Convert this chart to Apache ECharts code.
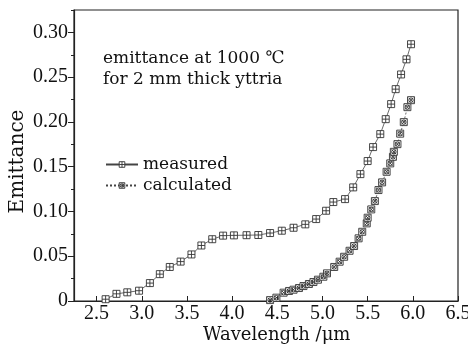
<!DOCTYPE html>
<html>
<head>
<meta charset="utf-8">
<script src="https://cdn.jsdelivr.net/npm/echarts@6/dist/echarts.min.js"></script>
<style>html,body{margin:0;padding:0;background:#fff}#c{width:468px;height:346px}</style>
</head>
<body>
<div id="c"></div>
<script>
var measuredX = [2.60,2.72,2.84,2.97,3.09,3.20,3.31,3.43,3.55,3.66,3.78,3.90,4.02,4.16,4.29,4.42,4.55,4.68,4.81,4.93,5.04,5.12,5.25,5.34,5.42,5.50,5.56,5.64,5.70,5.76,5.81,5.87,5.93,5.98];
var measuredY = [0.002,0.008,0.0097,0.0115,0.020,0.030,0.038,0.044,0.052,0.062,0.069,0.073,0.0733,0.0735,0.0737,0.0759,0.0785,0.0818,0.0856,0.0915,0.1008,0.1105,0.1138,0.1269,0.1417,0.1563,0.1719,0.1864,0.2031,0.2199,0.2366,0.253,0.2699,0.2868];
var calculatedX = [4.42,4.49,4.57,4.63,4.68,4.74,4.79,4.85,4.90,4.95,5.01,5.05,5.13,5.19,5.24,5.30,5.35,5.40,5.44,5.49,5.50,5.54,5.58,5.62,5.66,5.71,5.75,5.78,5.79,5.83,5.86,5.90,5.94,5.98];
var calculatedY = [0.001,0.0037,0.0093,0.0112,0.0126,0.0145,0.0167,0.019,0.0212,0.0238,0.0271,0.0309,0.038,0.0439,0.0494,0.0561,0.0614,0.070,0.0773,0.0867,0.093,0.1023,0.1116,0.1239,0.1325,0.1443,0.1537,0.161,0.1666,0.1752,0.1869,0.1998,0.2165,0.2243];
var xTicks = [2.5,3.0,3.5,4.0,4.5,5.0,5.5,6.0,6.5];
var yTicks = [0,0.05,0.10,0.15,0.20,0.25,0.30];
var seriesNames = ['measured','calculated'];
var noteLines = ['emittance at 1000 \u2103','for 2 mm thick yttria'];

var FONT = 'DejaVu Serif';
var NUMFONT = 'Liberation Serif';
var INK = '#111';
var symMeasured = 'path://M0,0H10V10H0Z M5,0V10 M0,5H10';
var symCalc = 'path://M0,0H10V10H0Z M1.5,1.5L8.5,8.5 M8.5,1.5L1.5,8.5 M8.2,5A3.2,3.2,0,1,0,1.8,5A3.2,3.2,0,1,0,8.2,5';

function pairs(xs, ys){ return xs.map(function(x,i){ return [x, ys[i]]; }); }

var chart = echarts.init(document.getElementById('c'), null, {renderer:'canvas'});
chart.setOption({
  animation: false,
  grid: {left: 74, right: 10, top: 10, bottom: 45, containLabel: false, outerBoundsMode: 'none',
    show: true, borderColor: '#222', borderWidth: 1.2, backgroundColor: 'transparent'},
  xAxis: {
    type: 'value', min: 2.25, max: 6.5,
    axisLine: {show: true, lineStyle: {color: '#222', width: 1.2}},
    axisTick: {show: true, inside: true, length: 5, customValues: xTicks, lineStyle: {color: '#222', width: 1}},
    axisLabel: {customValues: xTicks, margin: 3, fontFamily: NUMFONT, fontSize: 20, color: INK, hideOverlap: false,
      formatter: function(v){ return v.toFixed(1); }},
    splitLine: {show: false}
  },
  yAxis: [{
    type: 'value', min: 0, max: 0.325,
    axisLine: {show: true, lineStyle: {color: '#222', width: 1.2}},
    axisTick: {show: true, inside: false, length: 6, customValues: yTicks, lineStyle: {color: '#222', width: 1}},
    axisLabel: {customValues: yTicks, margin: 6, fontFamily: NUMFONT, fontSize: 20, color: INK,
      formatter: function(v){ return v === 0 ? '0' : v.toFixed(2); }},
    splitLine: {show: false},
    name: 'Emittance', nameLocation: 'middle', nameGap: 46, nameRotate: 90, nameMoveOverlap: false,
    nameTextStyle: {fontFamily: FONT, fontSize: 20, color: INK, padding: [0, 0, 0, -12]}
  },{
    type: 'value', min: 0, max: 0.325, interval: 0.025, position: 'left',
    axisLine: {show: false},
    axisTick: {show: true, inside: false, length: 3, lineStyle: {color: '#222', width: 1}},
    axisLabel: {show: false},
    splitLine: {show: false}
  }],
  legend: {
    orient: 'vertical', left: 100, top: 151, itemWidth: 32, itemHeight: 7, itemGap: 4,
    data: seriesNames,
    itemStyle: {color: '#fff', borderColor: '#333', borderWidth: 0.9},
    textStyle: {fontFamily: FONT, fontSize: 17, color: INK, padding: [0, 0, 0, 0]}
  },
  graphic: [
    {type: 'text', left: 103, top: 50, style: {text: noteLines[0], font: '17px "DejaVu Serif"', fill: INK}},
    {type: 'text', left: 103, top: 71, style: {text: noteLines[1], font: '17px "DejaVu Serif"', fill: INK}},
    {type: 'text', left: 203, top: 326, style: {text: 'Wavelength /\u03bcm', font: '18px "DejaVu Serif"', fill: INK}}
  ],
  series: [{
    name: seriesNames[0], type: 'line', data: pairs(measuredX, measuredY),
    symbol: symMeasured, symbolSize: 7,
    itemStyle: {color: '#fff', borderColor: '#333', borderWidth: 0.9},
    lineStyle: {color: '#444', width: 0.8, type: 'solid'}
  },{
    name: seriesNames[1], type: 'line', data: pairs(calculatedX, calculatedY),
    symbol: symCalc, symbolSize: 7,
    itemStyle: {color: '#fff', borderColor: '#333', borderWidth: 0.9},
    lineStyle: {color: '#444', width: 0.8, type: [2, 2]}
  }]
});
</script>
</body>
</html>
